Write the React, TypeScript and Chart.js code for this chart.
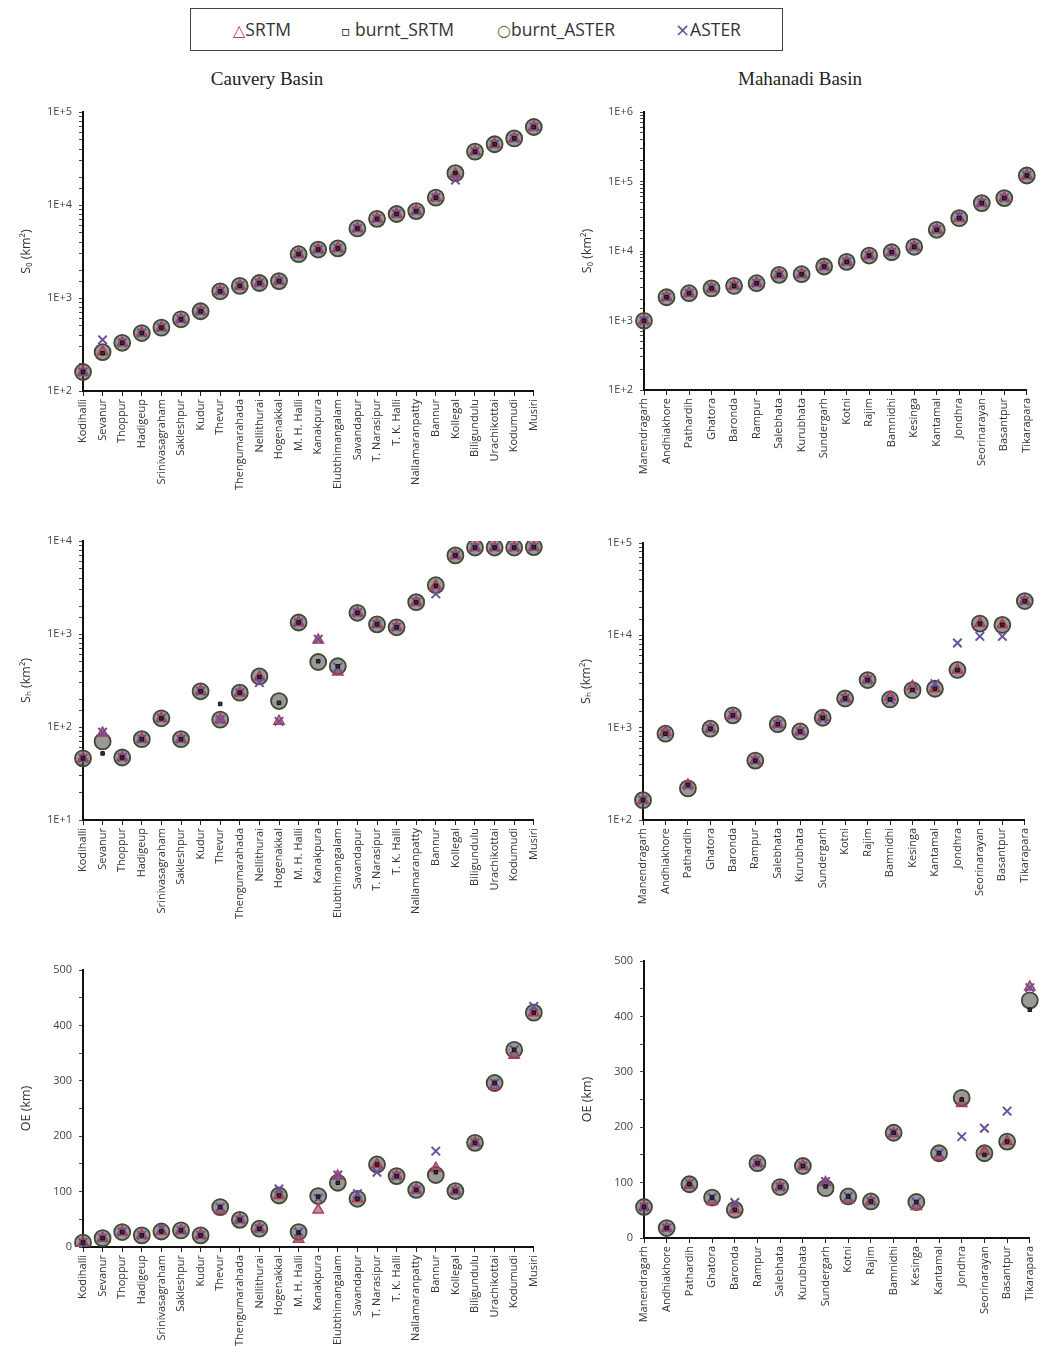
import React, { useEffect, useRef } from "react";
import { Chart, registerables } from "chart.js";
Chart.register(...registerables);

// ---------- categories ----------
const cauveryStations = [
  "Kodihalli", "Sevanur", "Thoppur", "Hadigeup", "Srinivasagraham", "Sakleshpur", "Kudur", "Thevur",
  "Thengumarahada", "Nellithurai", "Hogenakkal", "M. H. Halli", "Kanakpura", "Elubthimangalam", "Savandapur",
  "T. Narasipur", "T. K. Halli", "Nallamaranpatty", "Bannur", "Kollegal", "Biligundulu", "Urachikottai",
  "Kodumudi", "Musiri",
];
const mahanadiStations = [
  "Manendragarh", "Andhiakhore", "Pathardih", "Ghatora", "Baronda", "Rampur", "Salebhata", "Kurubhata",
  "Sundergarh", "Kotni", "Rajim", "Bamnidhi", "Kesinga", "Kantamal", "Jondhra", "Seorinarayan", "Basantpur",
  "Tikarapara",
];

const seriesNames = ["SRTM", "burnt_SRTM", "burnt_ASTER", "ASTER"];

// ---------- Cauvery S0 (km2) ----------
const cauS0_SRTM = [160, 265, 330, 420, 480, 590, 720, 1180, 1350, 1450, 1520, 2960, 3320, 3420, 5600, 7100, 8000, 8600, 12000, 21500, 37500, 45000, 52000, 69000];
const cauS0_bSRTM = [160, 255, 330, 420, 480, 590, 720, 1180, 1350, 1450, 1520, 2960, 3320, 3420, 5600, 7100, 8000, 8600, 12000, 22000, 37500, 45000, 52000, 69000];
const cauS0_bASTER = [160, 262, 330, 420, 480, 590, 720, 1180, 1350, 1450, 1520, 2960, 3320, 3420, 5600, 7100, 8000, 8600, 12000, 22000, 37500, 45000, 52000, 69000];
const cauS0_ASTER = [160, 355, 330, 420, 480, 590, 720, 1180, 1350, 1450, 1520, 2960, 3320, 3420, 5600, 7100, 8000, 8600, 12000, 18500, 37500, 45000, 52000, 69000];

// ---------- Mahanadi S0 (km2) ----------
const mahS0_SRTM = [990, 2160, 2470, 2850, 3150, 3440, 4540, 4640, 5980, 6980, 8600, 9600, 11500, 20200, 29700, 48900, 57700, 122000];
const mahS0_bSRTM = [990, 2160, 2470, 2900, 3150, 3440, 4540, 4640, 5980, 6980, 8600, 9600, 11500, 20200, 29700, 48900, 57700, 122000];
const mahS0_bASTER = [990, 2160, 2470, 2900, 3150, 3440, 4540, 4640, 5980, 6980, 8600, 9600, 11500, 20200, 29700, 48900, 57700, 122000];
const mahS0_ASTER = [990, 2160, 2470, 2950, 3150, 3440, 4540, 4640, 5980, 6980, 8600, 9600, 11500, 20200, 32000, 48900, 57700, 122000];

// ---------- Cauvery Sh (km2) ----------
const cauSh_SRTM = [46, 86, 47, 74, 124, 74, 242, 120, 234, 345, 115, 1330, 860, 390, 1690, 1270, 1180, 2200, 3300, 7000, 8500, 8500, 8500, 8600];
const cauSh_bSRTM = [46, 52, 47, 74, 124, 74, 242, 177, 234, 345, 182, 1330, 510, 450, 1690, 1270, 1180, 2200, 3300, 7000, 8500, 8500, 8500, 8600];
const cauSh_bASTER = [46, 70, 47, 74, 124, 74, 242, 120, 234, 350, 190, 1330, 500, 450, 1690, 1270, 1180, 2200, 3350, 7000, 8500, 8500, 8500, 8600];
const cauSh_ASTER = [46, 88, 47, 74, 124, 74, 242, 120, 234, 300, 115, 1330, 880, 440, 1690, 1270, 1180, 2200, 2700, 7000, 8500, 8500, 8500, 8600];

// ---------- Mahanadi Sh (km2) ----------
const mahSh_SRTM = [164, 900, 240, 975, 1360, 440, 1090, 910, 1300, 2070, 3280, 2150, 2800, 2640, 4200, 13400, 13000, 23500];
const mahSh_bSRTM = [164, 860, 240, 975, 1360, 440, 1090, 910, 1280, 2070, 3280, 2020, 2550, 2640, 4200, 13400, 13000, 23500];
const mahSh_bASTER = [164, 860, 220, 975, 1360, 440, 1090, 910, 1280, 2070, 3280, 2020, 2550, 2640, 4220, 13400, 12970, 23500];
const mahSh_ASTER = [164, 860, 235, 975, 1360, 440, 1090, 910, 1250, 2070, 3280, 2020, 2600, 3000, 8250, 9750, 9750, 23500];

// ---------- Cauvery OE (km) ----------
const cauOE_SRTM = [8, 16, 27, 21, 28, 30, 21, 66, 49, 33, 93, 14, 67, 128, 87, 149, 128, 103, 142, 101, 188, 291, 346, 423];
const cauOE_bSRTM = [8, 16, 27, 21, 28, 30, 21, 72, 49, 33, 93, 26, 91, 116, 87, 149, 128, 103, 135, 101, 188, 296, 356, 423];
const cauOE_bASTER = [8, 16, 27, 21, 28, 30, 21, 72, 49, 33, 93, 27, 92, 116, 87, 149, 128, 103, 130, 101, 188, 296, 356, 423];
const cauOE_ASTER = [8, 16, 27, 21, 33, 30, 21, 72, 49, 33, 105, 27, 88, 130, 96, 135, 128, 103, 173, 101, 188, 296, 356, 434];

// ---------- Mahanadi OE (km) ----------
const mahOE_SRTM = [56, 18, 95, 66, 51, 135, 92, 130, 100, 69, 66, 188, 57, 147, 243, 156, 174, 453];
const mahOE_bSRTM = [56, 18, 97, 73, 51, 135, 92, 130, 93, 75, 66, 190, 65, 153, 250, 150, 174, 412];
const mahOE_bASTER = [56, 18, 97, 73, 51, 135, 92, 130, 90, 75, 66, 190, 65, 153, 253, 153, 174, 429];
const mahOE_ASTER = [56, 18, 99, 73, 64, 135, 92, 130, 102, 75, 66, 190, 65, 153, 183, 198, 229, 452];

// ---------- styling ----------
const FONT = "'Open Sans', Lato, 'DejaVu Sans', sans-serif";
const Y_W = 66;
const X_H = 122;
const PAD_L = 4;
const PAD_T = 14;
const PAD_R = 12;
const PAD_B = 2;

type PanelDef = {
  cats: string[];
  series: number[][];
  log: boolean;
  min: number;
  max: number;
  yTitle: string;
  plot: { left: number; top: number; right: number; bottom: number };
};

function makeDatasets(series: number[][]) {
  const [srtm, bSrtm, bAster, aster] = series;
  return [
    {
      label: seriesNames[2],
      data: bAster,
      pointStyle: "circle",
      pointRadius: 8,
      borderWidth: 1.8,
      borderColor: "#3f4a32",
      backgroundColor: "rgba(85,85,85,0.6)",
      showLine: false,
      order: 4,
    },
    {
      label: seriesNames[0],
      data: srtm,
      pointStyle: "triangle",
      pointRadius: 6,
      borderWidth: 1.5,
      borderColor: "#b8385a",
      backgroundColor: "rgba(120,85,95,0.6)",
      showLine: false,
      order: 3,
    },
    {
      label: seriesNames[3],
      data: aster,
      pointStyle: "crossRot",
      pointRadius: 6,
      borderWidth: 2,
      borderColor: "#6a4f9c",
      backgroundColor: "#6a4f9c",
      showLine: false,
      order: 2,
    },
    {
      label: seriesNames[1],
      data: bSrtm,
      pointStyle: "rect",
      pointRadius: 2.5,
      borderWidth: 1,
      borderColor: "#111",
      backgroundColor: "#333",
      showLine: false,
      order: 1,
    },
  ];
}

function Panel({ def }: { def: PanelDef }) {
  const ref = useRef<HTMLCanvasElement | null>(null);
  const { plot } = def;
  const cw = plot.right - plot.left + Y_W + PAD_L + PAD_R;
  const ch = plot.bottom - plot.top + X_H + PAD_T + PAD_B;
  const cl = plot.left - Y_W - PAD_L;
  const ct = plot.top - PAD_T;

  useEffect(() => {
    if (!ref.current) return;
    const yTicks: any = def.log
      ? {
          autoSkip: false,
          color: "#444",
          font: { family: FONT, size: 11 },
          padding: 7,
          callback: (v: any) => {
            const e = Math.log10(Number(v));
            return Math.abs(e - Math.round(e)) < 1e-9 ? "1E+" + Math.round(e) : "";
          },
        }
      : {
          autoSkip: false,
          stepSize: 50,
          color: "#444",
          font: { family: FONT, size: 11 },
          padding: 7,
          callback: (v: any) => (Number(v) % 100 === 0 ? String(v) : ""),
        };

    const chart = new Chart(ref.current, {
      type: "line",
      data: { labels: def.cats, datasets: makeDatasets(def.series) as any },
      options: {
        animation: false,
        responsive: false,
        maintainAspectRatio: false,
        layout: { padding: { left: PAD_L, top: PAD_T, right: PAD_R, bottom: PAD_B } },
        plugins: { legend: { display: false }, tooltip: { enabled: false }, title: { display: false } },
        scales: {
          x: {
            type: "category",
            offset: false,
            grid: { display: true, drawOnChartArea: false, drawTicks: true, tickLength: 5, color: "#222", lineWidth: 1 },
            border: { display: true, color: "#111", width: 2 },
            ticks: {
              autoSkip: false,
              minRotation: 90,
              maxRotation: 90,
              color: "#333",
              padding: 3,
              font: { family: FONT, size: 11 },
            },
            afterFit: (s: any) => {
              s.height = X_H;
            },
          },
          y: {
            type: def.log ? "logarithmic" : "linear",
            min: def.min,
            max: def.max,
            grid: { display: true, drawOnChartArea: false, drawTicks: true, tickLength: 4, color: "#444", lineWidth: 1 },
            border: { display: true, color: "#111", width: 2 },
            ticks: yTicks,
            title: {
              display: true,
              text: def.yTitle,
              color: "#333",
              font: { family: FONT, size: 12.5 },
              padding: { top: 2, bottom: 2 },
            },
            afterFit: (s: any) => {
              s.width = Y_W;
            },
          } as any,
        },
      } as any,
    });
    return () => chart.destroy();
  }, [def]);

  return (
    <canvas
      ref={ref}
      width={cw}
      height={ch}
      style={{ position: "absolute", left: cl, top: ct, width: cw, height: ch }}
    />
  );
}

const panels: PanelDef[] = [
  {
    cats: cauveryStations,
    series: [cauS0_SRTM, cauS0_bSRTM, cauS0_bASTER, cauS0_ASTER],
    log: true, min: 100, max: 100000, yTitle: "S\u2080 (km\u00b2)",
    plot: { left: 83, top: 112, right: 538, bottom: 391 },
  },
  {
    cats: mahanadiStations,
    series: [mahS0_SRTM, mahS0_bSRTM, mahS0_bASTER, mahS0_ASTER],
    log: true, min: 100, max: 1000000, yTitle: "S\u2080 (km\u00b2)",
    plot: { left: 644, top: 112, right: 1031, bottom: 390 },
  },
  {
    cats: cauveryStations,
    series: [cauSh_SRTM, cauSh_bSRTM, cauSh_bASTER, cauSh_ASTER],
    log: true, min: 10, max: 10000, yTitle: "S\u2095 (km\u00b2)",
    plot: { left: 83, top: 541, right: 538, bottom: 820 },
  },
  {
    cats: mahanadiStations,
    series: [mahSh_SRTM, mahSh_bSRTM, mahSh_bASTER, mahSh_ASTER],
    log: true, min: 100, max: 100000, yTitle: "S\u2095 (km\u00b2)",
    plot: { left: 643, top: 543, right: 1029, bottom: 820 },
  },
  {
    cats: cauveryStations,
    series: [cauOE_SRTM, cauOE_bSRTM, cauOE_bASTER, cauOE_ASTER],
    log: false, min: 0, max: 500, yTitle: "OE (km)",
    plot: { left: 83, top: 970, right: 538, bottom: 1247 },
  },
  {
    cats: mahanadiStations,
    series: [mahOE_SRTM, mahOE_bSRTM, mahOE_bASTER, mahOE_ASTER],
    log: false, min: 0, max: 500, yTitle: "OE (km)",
    plot: { left: 644, top: 961, right: 1034, bottom: 1238 },
  },
];

const legendItems = [
  { sym: "\u25B3", color: "#c03a5c", text: seriesNames[0], left: 42, symSize: 16 },
  { sym: "\u25AB", color: "#222", text: " " + seriesNames[1], left: 150, symSize: 14 },
  { sym: "\u25CB", color: "#55703a", text: seriesNames[2], left: 306, symSize: 16 },
  { sym: "\u00D7", color: "#6a4f9c", text: seriesNames[3], left: 484, symSize: 18 },
];

export default function App() {
  return (
    <div
      style={{
        position: "absolute",
        left: 0,
        top: 0,
        width: 1047,
        height: 1369,
        background: "#fff",
        overflow: "hidden",
      }}
    >
      <div
        style={{
          position: "absolute",
          left: 190,
          top: 8,
          width: 593,
          height: 43,
          border: "1.5px solid #444",
          boxSizing: "border-box",
          fontFamily: FONT,
          fontSize: 17.5,
          color: "#333",
        }}
      >
        {legendItems.map((it) => (
          <div
            key={it.text}
            style={{
              position: "absolute",
              left: it.left,
              top: 0,
              height: 40,
              lineHeight: "40px",
              whiteSpace: "nowrap",
            }}
          >
            <span style={{ color: it.color, fontSize: it.symSize, fontFamily: "'DejaVu Sans', sans-serif" }}>{it.sym}</span>
            <span>{it.text}</span>
          </div>
        ))}
      </div>
      <div
        style={{
          position: "absolute",
          left: 167,
          width: 200,
          top: 68,
          textAlign: "center",
          fontFamily: "'Liberation Serif', 'DejaVu Serif', serif",
          fontSize: 19,
          color: "#222",
        }}
      >
        Cauvery Basin
      </div>
      <div
        style={{
          position: "absolute",
          left: 700,
          width: 200,
          top: 68,
          textAlign: "center",
          fontFamily: "'Liberation Serif', 'DejaVu Serif', serif",
          fontSize: 19,
          color: "#222",
        }}
      >
        Mahanadi Basin
      </div>
      {panels.map((p, i) => (
        <Panel key={i} def={p} />
      ))}
    </div>
  );
}
